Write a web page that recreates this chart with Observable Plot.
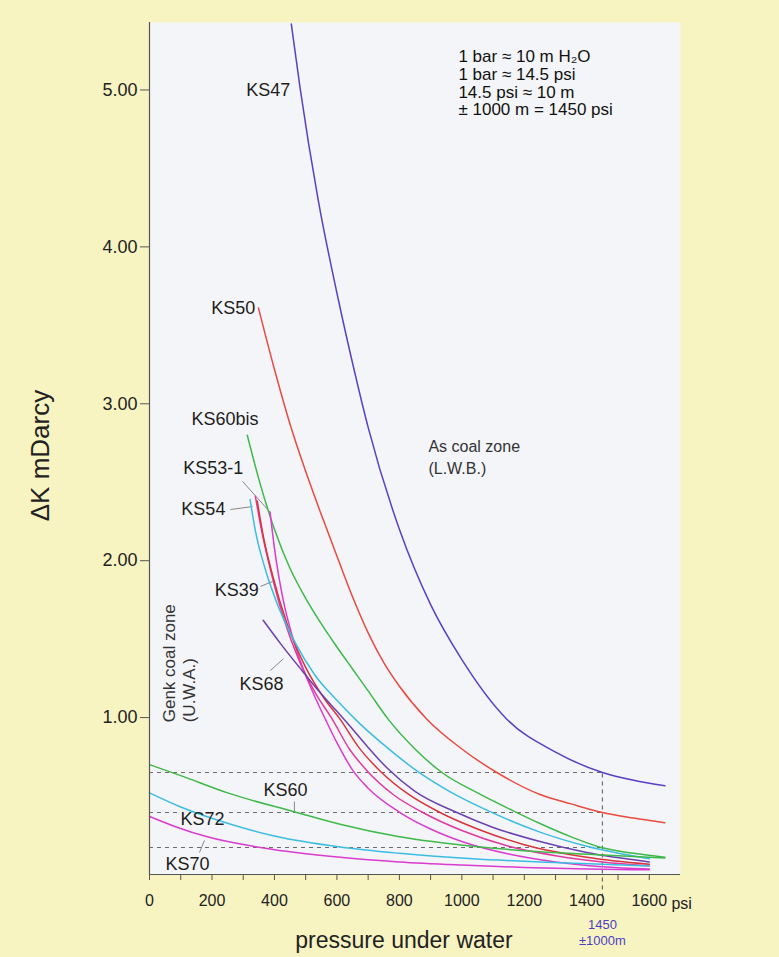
<!DOCTYPE html>
<html><head><meta charset="utf-8">
<script src="https://cdn.jsdelivr.net/npm/d3@7"></script>
<script src="https://cdn.jsdelivr.net/npm/@observablehq/plot@0.6"></script>
<style>
body{margin:0;background:#f8f4c2;}
#chart svg{display:block;}
</style>
</head><body><div id="chart"></div>
<script>
// ---- data: [psi, ΔK mDarcy] ----
const KS47   = [[454,5.42],[483,5.0],[540,4.3],[605,3.66],[650,3.26],[700,2.85],[800,2.2],[900,1.72],[1000,1.37],[1144,0.99],[1300,0.78],[1450,0.65],[1550,0.6],[1650,0.565]];
const KS50   = [[349,3.61],[400,3.22],[450,2.87],[500,2.57],[547,2.31],[600,2.03],[650,1.77],[700,1.54],[750,1.35],[800,1.2],[888,0.99],[1000,0.8],[1112,0.65],[1250,0.51],[1350,0.45],[1450,0.395],[1550,0.36],[1650,0.33]];
const KS60bis= [[313,2.8],[350,2.52],[400,2.2],[450,1.95],[500,1.76],[546,1.61],[600,1.45],[650,1.31],[700,1.17],[764,0.99],[850,0.8],[936,0.65],[1050,0.52],[1150,0.42],[1250,0.325],[1350,0.24],[1450,0.17],[1550,0.135],[1650,0.11]];
const KS53_1 = [[386,2.31],[400,2.08],[428,1.75],[460,1.5],[500,1.27],[530,1.13],[563,0.99],[600,0.84],[652,0.66],[700,0.55],[802,0.395],[900,0.29],[1000,0.21],[1150,0.13],[1300,0.08],[1450,0.05],[1600,0.035]];
const KS39   = [[339,2.41],[360,2.18],[390,1.92],[430,1.63],[480,1.36],[530,1.16],[585,0.99],[640,0.8],[697,0.66],[780,0.51],[875,0.395],[1000,0.28],[1150,0.18],[1300,0.12],[1450,0.08],[1600,0.055]];
const RED2   = [[345,2.38],[365,2.15],[395,1.9],[440,1.6],[500,1.32],[560,1.12],[610,0.99],[670,0.81],[738,0.66],[830,0.51],[930,0.395],[1050,0.29],[1200,0.19],[1400,0.11],[1600,0.065]];
const KS54   = [[322,2.39],[340,2.18],[370,1.95],[410,1.72],[466,1.48],[530,1.27],[600,1.11],[674,0.96],[760,0.81],[856,0.66],[960,0.53],[1080,0.41],[1250,0.27],[1400,0.18],[1600,0.10]];
const KS68   = [[364,1.62],[420,1.47],[480,1.32],[546,1.16],[600,1.04],[640,0.95],[700,0.81],[760,0.68],[850,0.53],[984,0.395],[1100,0.3],[1250,0.21],[1400,0.14],[1600,0.08]];
const KS60   = [[0,0.70],[100,0.63],[250,0.52],[463,0.40],[610,0.32],[800,0.24],[1035,0.18],[1250,0.145],[1450,0.125],[1650,0.105]];
const KS72   = [[0,0.52],[100,0.43],[260,0.32],[400,0.245],[610,0.175],[800,0.135],[1035,0.10],[1250,0.08],[1450,0.065],[1600,0.055]];
const KS70   = [[0,0.37],[90,0.30],[185,0.24],[396,0.16],[610,0.11],[800,0.08],[1000,0.06],[1200,0.045],[1400,0.035],[1600,0.03]];

const seriesNames  = ["KS47","KS50","KS60bis","KS53-1","KS39","red","KS54","KS68","KS60","KS72","KS70"];
const seriesPoints = [KS47, KS50, KS60bis, KS53_1, KS39, RED2, KS54, KS68, KS60, KS72, KS70];
const seriesColors = ["#5b3fc6","#ea4a3f","#3fb84a","#d93ccf","#e03aa0","#d8343a","#3bbde3","#6b40b0","#3fb84a","#3bbde3","#d93ccf"];

const guideLevels = [0.65, 0.395, 0.172];   // dashed levels read at 1450 psi
const markPsi = 1450;
const xTicks = d3.range(0, 1601, 100);
const yTicks = [1, 2, 3, 4, 5];

// curve labels
const labelsEnd = [
  {t:"KS47", x:451, y:5.0},
  {t:"KS50", x:339, y:3.61},
  {t:"KS60bis", x:349, y:2.90},
  {t:"KS53-1", x:300, y:2.59},
  {t:"KS54", x:243, y:2.33},
  {t:"KS39", x:350, y:1.81},
  {t:"KS68", x:429, y:1.21}
];
const labelsStart = [
  {t:"KS60", x:365, y:0.54},
  {t:"KS70", x:51, y:0.064}
];
const haloLabels = [{t:"KS72", x:99, y:0.35}];
const pointers = [
  {x1:298, y1:2.505, x2:387, y2:2.307},
  {x1:259, y1:2.326, x2:330, y2:2.345},
  {x1:355, y1:1.836, x2:394, y2:1.867},
  {x1:387, y1:1.30, x2:429, y2:1.375},
  {x1:464, y1:0.465, x2:464, y2:0.40},
  {x1:160, y1:0.14, x2:176, y2:0.217}
];
const noteLines = ["1 bar ≈ 10 m H₂O", "1 bar ≈ 14.5 psi", "14.5 psi ≈ 10 m", "± 1000 m = 1450 psi"];
const depthLines = ["1450", "±1000m"];

const rows = seriesNames.flatMap((n, i) => seriesPoints[i].map(([p, k]) => ({series: n, psi: p, dk: k, color: seriesColors[i]})));

const FONT = "'Liberation Sans', Arial, Helvetica, sans-serif";
const PANEL = "#f4f5f8";
const LBL = 18;

const chart = Plot.plot({
  width: 779, height: 957,
  marginLeft: 149, marginRight: 99, marginTop: 22, marginBottom: 83,
  x: {domain: [0, 1700]},
  y: {domain: [0, 5.43]},
  style: {background: "transparent", fontFamily: FONT, fontSize: "17px", color: "#222"},
  marks: [
    Plot.frame({fill: PANEL, stroke: null}),
    Plot.ruleY(guideLevels, {x1: 0, x2: markPsi, stroke: "#6a6a6a", strokeDasharray: "4,4", strokeWidth: 1.2}),
    Plot.ruleX([markPsi], {y1: -0.2, y2: guideLevels[0], stroke: "#6a6a6a", strokeDasharray: "4,4", strokeWidth: 1.2}),
    Plot.link(pointers, {x1: "x1", y1: "y1", x2: "x2", y2: "y2", stroke: "#888", strokeWidth: 1}),
    Plot.text(haloLabels, {x: "x", y: "y", text: "t", textAnchor: "start", fontSize: LBL, fill: PANEL, stroke: PANEL, strokeWidth: 6}),
    Plot.line(rows, {x: "psi", y: "dk", z: "series", stroke: "color", strokeWidth: 1.5, curve: "monotone-x"}),
    Plot.text(labelsEnd, {x: "x", y: "y", text: "t", textAnchor: "end", fontSize: LBL, fill: "#1e1e1e"}),
    Plot.text(labelsStart, {x: "x", y: "y", text: "t", textAnchor: "start", fontSize: LBL, fill: "#1e1e1e"}),
    Plot.text(haloLabels, {x: "x", y: "y", text: "t", textAnchor: "start", fontSize: LBL, fill: "#1e1e1e"}),
    Plot.ruleX([0], {stroke: "#555", strokeWidth: 1.2}),
    Plot.ruleY([0], {stroke: "#555", strokeWidth: 1.2}),
    Plot.axisY({ticks: yTicks, tickFormat: d3.format(".2f"), tickSize: 9, tickPadding: 3, label: null, fontSize: 18, stroke: "#555"}),
    Plot.axisX({ticks: xTicks, tickFormat: d => d % 200 === 0 ? String(d) : "", tickSize: 6, tickPadding: 14, label: null, fontSize: 16, stroke: "#555"}),
    Plot.text(noteLines, {x: 989, y: (d, i) => 5.21 - i * 0.112, textAnchor: "start", lineAnchor: "middle", fontSize: 17, fill: "#111"}),
    Plot.text(["As coal zone\n(L.W.B.)"], {x: 893, y: 2.79, textAnchor: "start", lineAnchor: "top", lineHeight: 1.35, fontSize: 16, fill: "#333"}),
    Plot.text(["Genk coal zone\n(U.W.A.)"], {x: 38, y: 0.97, rotate: -90, textAnchor: "start", lineAnchor: "top", lineHeight: 1.15, fontSize: 17, fill: "#333"}),
    Plot.text(["ΔK mDarcy"], {frameAnchor: "left", textAnchor: "middle", lineAnchor: "middle", dx: -109, dy: 7, rotate: -90, fontSize: 26, fill: "#222"}),
    Plot.text(["pressure under water"], {frameAnchor: "bottom", textAnchor: "middle", lineAnchor: "middle", dx: -11, dy: 66, fontSize: 23, fill: "#222"}),
    Plot.text(["psi"], {x: 1671, y: -0.19, textAnchor: "start", fontSize: 16, fill: "#222"}),
    Plot.text(depthLines, {x: markPsi, y: (d, i) => -0.32 - i * 0.1, lineAnchor: "middle", fontSize: 13, fill: "#4b3fc4"})
  ]
});
document.getElementById("chart").appendChild(chart);
</script>
</body></html>
